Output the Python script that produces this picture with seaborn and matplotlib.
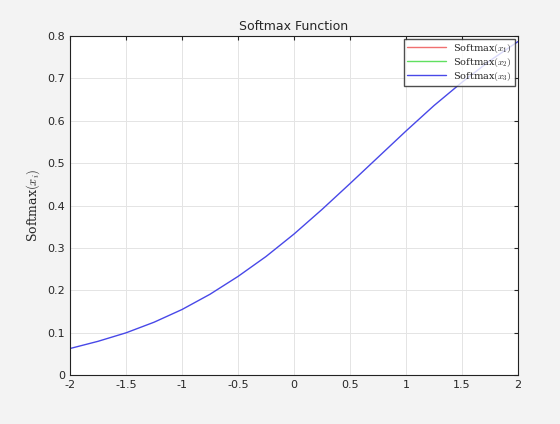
import matplotlib
matplotlib.use("Agg")
import matplotlib.pyplot as plt
import seaborn as sns
import pandas as pd

x_vals = [-2, -1.75, -1.5, -1.25, -1, -0.75, -0.5, -0.25, 0, 0.25, 0.5, 0.75, 1, 1.25, 1.5, 1.75, 2]
s3_vals = [0.063, 0.080, 0.100, 0.125, 0.155, 0.191, 0.233, 0.280, 0.333, 0.391, 0.452, 0.514, 0.576, 0.636, 0.691, 0.742, 0.787]
x_ticks = [-2, -1.5, -1, -0.5, 0, 0.5, 1, 1.5, 2]
x_labels = ["-2", "-1.5", "-1", "-0.5", "0", "0.5", "1", "1.5", "2"]
y_ticks = [0, 0.1, 0.2, 0.3, 0.4, 0.5, 0.6, 0.7, 0.8]

sns.set_style("whitegrid")
plt.rcParams['font.family'] = ['DejaVu Sans']
plt.rcParams['mathtext.fontset'] = 'cm'

fig = plt.figure(figsize=(5.6, 4.24), dpi=100)
fig.patch.set_facecolor("#f3f3f3")
ax = fig.add_axes([0.125, 0.115, 0.80, 0.80])
df = pd.DataFrame({"x": x_vals, "y": s3_vals})
ax.plot([], [], color="#f07070", lw=1, label=r"Softmax$(x_1)$")
ax.plot([], [], color="#60e060", lw=1, label=r"Softmax$(x_2)$")
sns.lineplot(data=df, x="x", y="y", ax=ax, color="#4848e8", lw=1, label=r"Softmax$(x_3)$")
ax.set_xlim(-2, 2)
ax.set_ylim(0, 0.8)
ax.set_xticks(x_ticks)
ax.set_xticklabels(x_labels, fontsize=8)
ax.set_yticks(y_ticks)
ax.set_yticklabels([f"{v:g}" for v in y_ticks], fontsize=8)
ax.tick_params(direction="in", length=3, top=True, right=True)
ax.grid(True, color="#e4e4e4", lw=0.7)
for s in ax.spines.values():
    s.set_color("#222222"); s.set_linewidth(0.8)
ax.set_xlabel("")
ax.set_ylabel(r"Softmax$(x_i)$", fontsize=9, family="serif")
ax.set_title("Softmax Function", fontsize=9, pad=4)
leg = ax.legend(loc="upper right", fontsize=7, prop={"family": "serif", "size": 7},
                frameon=True, fancybox=False, edgecolor="#222222", handlelength=4,
                borderpad=0.3, labelspacing=0.1, borderaxespad=0.3)
fig.savefig("out.png", dpi=100, facecolor=fig.get_facecolor())
